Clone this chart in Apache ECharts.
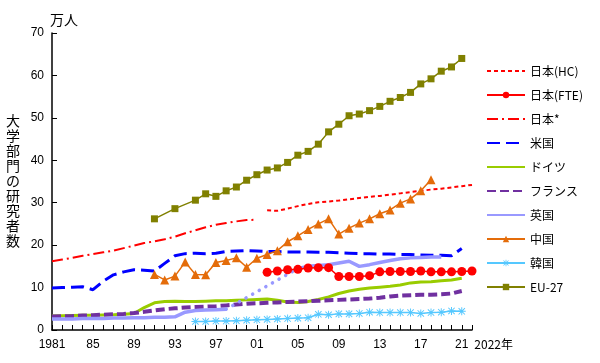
<!DOCTYPE html>
<html><head><meta charset="utf-8">
<script src="https://cdn.jsdelivr.net/npm/echarts@6/dist/echarts.min.js"></script>
<style>html,body{margin:0;padding:0;background:#fff}#c{width:600px;height:363px}</style>
</head><body><div id="c"></div>
<script>
const years = [];
for (let y = 1981; y <= 2022; y++) years.push(String(y));

const jpHC_start = 2002;
const jpHC = [28.2, 28.1, 28.6, 29.2, 29.7, 30.1, 30.3, 30.5, 30.8, 31.1, 31.4, 31.6, 31.9, 32.2, 32.5, 32.8, 33.1, 33.3, 33.6, 33.9, 34.2];
const jpFTE_start = 2002;
const jpFTE = [13.6, 13.9, 14.2, 14.3, 14.6, 14.7, 14.7, 12.6, 12.6, 12.6, 12.8, 13.7, 13.8, 13.8, 13.8, 13.9, 13.7, 13.7, 13.7, 13.8, 13.9];
const jpOld_start = 1981;
const jpOld = [16.2, 16.6, 17.0, 17.5, 17.9, 18.3, 18.7, 19.3, 19.9, 20.5, 20.9, 21.4, 22.0, 22.8, 23.5, 24.2, 24.8, 25.2, 25.6, 25.9, 26.0];
const us_start = 1981;
const us = [9.9, 10.0, 10.1, 10.2, 9.5, 11.5, 13.0, 13.7, 14.2, 14.1, 13.9, 15.7, 17.5, 18.0, 18.1, 18.0, 18.1, 18.5, 18.6, 18.7, 18.6, 18.5, 18.5, 18.4, 18.4, 18.4, 18.3, 18.3, 18.2, 18.1, 18.0, 18.0, 17.9, 17.9, 17.8, 17.8, 17.7, 17.6, 17.6, 17.5, 19.2];
const de_start = 1981;
const de = [3.3, 3.35, 3.4, 3.45, 3.5, 3.55, 3.6, 3.7, 3.9, 5.3, 6.4, 6.7, 6.8, 6.7, 6.7, 6.8, 6.9, 6.9, 7.0, 7.1, 7.2, 7.3, 7.0, 6.6, 6.5, 6.7, 7.2, 7.8, 8.6, 9.2, 9.6, 9.9, 10.1, 10.3, 10.6, 11.1, 11.3, 11.4, 11.6, 11.8, 12.2];
const fr_start = 1981;
const fr = [3.2, 3.25, 3.3, 3.4, 3.5, 3.6, 3.7, 3.8, 4.0, 4.3, 4.6, 4.9, 5.1, 5.3, 5.4, 5.5, 5.6, 5.8, 6.0, 6.2, 6.3, 6.4, 6.5, 6.6, 6.7, 6.8, 6.9, 7.0, 7.1, 7.2, 7.3, 7.4, 7.6, 7.9, 8.1, 8.2, 8.3, 8.3, 8.4, 8.6, 9.2];
const uk_start = 1981;
const uk = [2.6, 2.6, 2.6, 2.7, 2.7, 2.7, 2.8, 2.8, 2.9, 2.9, 3.0, 3.0, 3.1, 4.2, 4.6, 4.7, 4.8, 4.9, null, null, null, null, null, null, 14.5, 15.0, 15.2, 15.4, 15.8, 16.2, 15.0, 15.4, 15.9, 16.4, 16.8, 17.0, 17.1, 17.2, 17.2];
const ukGap_start = 1998;
const ukGap = [4.9, null, null, null, null, null, null, 14.5];
const cn_start = 1991;
const cn = [13.1, 11.8, 12.7, 16.0, 13.1, 13.0, 15.9, 16.4, 17.0, 14.8, 16.9, 17.8, 18.7, 20.8, 22.2, 23.7, 25.0, 26.2, 22.6, 24.0, 25.2, 26.2, 27.4, 28.3, 29.9, 30.9, 32.8, 35.4];
const kr_start = 1995;
const kr = [2.0, 2.0, 2.1, 2.1, 2.2, 2.3, 2.4, 2.5, 2.6, 2.7, 2.8, 2.9, 3.7, 3.6, 3.8, 3.8, 3.9, 4.2, 4.1, 4.1, 4.1, 4.1, 3.9, 4.1, 4.2, 4.5, 4.4];
const eu_start = 1991;
const eu = [26.2, null, 28.6, null, 30.6, 32.1, 31.5, 32.8, 33.7, 35.3, 36.6, 37.7, 38.2, 39.5, 41.2, 42.1, 43.8, 46.7, 48.5, 50.5, 50.9, 51.7, 52.7, 53.9, 54.8, 56.0, 58.0, 59.2, 61.0, 62.0, 64.0];

const names = ['日本(HC)', '日本(FTE)', '日本*', '米国', 'ドイツ', 'フランス', '英国', '中国', '韓国', 'EU-27'];
const noMarker = {'日本(HC)': 1, '日本*': 1, '米国': 1, 'ドイツ': 1, 'フランス': 1, '英国': 1};

function pad(start, vals) {
  const out = years.map(() => null);
  const off = start - 1981;
  vals.forEach((v, i) => { out[off + i] = v; });
  return out;
}

const asterisk = 'path://M0 4.4L10 4.4L10 5.6L0 5.6Z M4.4 0L5.6 0L5.6 10L4.4 10Z M0.6 1.45L1.45 0.6L9.4 8.55L8.55 9.4Z M8.55 0.6L9.4 1.45L1.45 9.4L0.6 8.55Z';

const chart = echarts.init(document.getElementById('c'), null, {renderer: 'canvas'});
const base = {type: 'line', animation: false, connectNulls: false, showAllSymbol: true};
chart.setOption({
  backgroundColor: '#fff',
  textStyle: {fontFamily: 'Liberation Sans, "Noto Sans CJK JP", sans-serif'},
  grid: {left: 52, right: 128, top: 33, bottom: 33},
  legend: {
    orient: 'vertical', left: 486, top: 65, padding: 0, itemWidth: 38, itemHeight: 8, itemGap: 12,
    data: names.map(n => noMarker[n] ? {name: n, itemStyle: {opacity: 0}} : {name: n}),
    textStyle: {fontSize: 12, color: '#000', fontFamily: '"Noto Sans CJK JP", sans-serif'}
  },
  xAxis: {
    type: 'category', data: years, boundaryGap: false,
    axisLine: {lineStyle: {color: '#000', width: 1.5}},
    axisTick: {inside: true, interval: 0, length: 5, lineStyle: {color: '#000'}},
    axisLabel: {interval: 3, color: '#000', fontSize: 12, margin: 9,
      formatter: (v, i) => i === 0 ? v : v.slice(2)},
    name: '2022年', nameLocation: 'end', nameGap: 1,
    nameTextStyle: {color: '#000', fontSize: 12, align: 'left', verticalAlign: 'top', padding: [8, 0, 0, 0], fontFamily: '"Noto Sans CJK JP", sans-serif'},
    splitLine: {show: false}
  },
  yAxis: {
    type: 'value', min: 0, max: 70, interval: 10,
    axisLine: {show: true, lineStyle: {color: '#000', width: 1.5}},
    axisTick: {show: true, inside: true, length: 5, lineStyle: {color: '#000'}},
    axisLabel: {color: '#000', fontSize: 12, margin: 8},
    splitLine: {show: false},
    name: '万人', nameLocation: 'end', nameGap: 6,
    nameTextStyle: {color: '#000', fontSize: 14, align: 'left', padding: [0, 0, 0, -2], fontFamily: '"Noto Sans CJK JP", sans-serif'}
  },
  graphic: [{
    type: 'text', left: 6, top: 113,
    style: {text: '大学部門の研究者数'.split('').join('\n'), font: '14px "Noto Sans CJK JP"', lineHeight: 15, fill: '#000', textAlign: 'left'}
  }],
  series: [
    Object.assign({}, base, {name: names[0], data: pad(jpHC_start, jpHC), symbol: 'none', color: '#ff0000', lineStyle: {color: '#ff0000', width: 2, type: [4, 3]}, z: 3}),
    Object.assign({}, base, {name: names[1], data: pad(jpFTE_start, jpFTE), symbol: 'circle', symbolSize: 9, color: '#ff0000', itemStyle: {color: '#ff0000'}, lineStyle: {color: '#ff0000', width: 1.5}, z: 4}),
    Object.assign({}, base, {name: names[2], data: pad(jpOld_start, jpOld), symbol: 'none', color: '#ff0000', lineStyle: {color: '#ff0000', width: 2, type: [11, 4, 2, 4]}}),
    Object.assign({}, base, {name: names[3], data: pad(us_start, us), symbol: 'none', color: '#0000ff', lineStyle: {color: '#0000ff', width: 3, type: [13, 6]}}),
    Object.assign({}, base, {name: names[4], data: pad(de_start, de), symbol: 'none', color: '#99cc00', lineStyle: {color: '#99cc00', width: 3}}),
    Object.assign({}, base, {name: names[5], data: pad(fr_start, fr), symbol: 'none', color: '#7030a0', lineStyle: {color: '#7030a0', width: 4, type: [9, 4]}}),
    Object.assign({}, base, {name: names[6], data: pad(uk_start, uk), symbol: 'none', color: '#9999ff', lineStyle: {color: '#9999ff', width: 3.5}}),
    Object.assign({}, base, {name: 'ukgap', data: pad(ukGap_start, ukGap), connectNulls: true, symbol: 'none', color: '#9999ff', lineStyle: {color: '#9999ff', width: 3.5, type: [0.1, 7.5], cap: 'round'}}),
    Object.assign({}, base, {name: names[7], data: pad(cn_start, cn), symbol: 'triangle', symbolSize: 9, color: '#e46c0a', itemStyle: {color: '#e46c0a'}, lineStyle: {color: '#e46c0a', width: 1.5}, z: 3}),
    Object.assign({}, base, {name: names[8], data: pad(kr_start, kr), symbol: asterisk, symbolSize: 8, color: '#55c8ff', itemStyle: {color: '#55c8ff'}, lineStyle: {color: '#55c8ff', width: 1.5}}),
    Object.assign({}, base, {name: names[9], data: pad(eu_start, eu), connectNulls: true, symbol: 'rect', symbolSize: 7, color: '#808000', itemStyle: {color: '#808000'}, lineStyle: {color: '#808000', width: 1.5}})
  ]
});
</script>
</body></html>
